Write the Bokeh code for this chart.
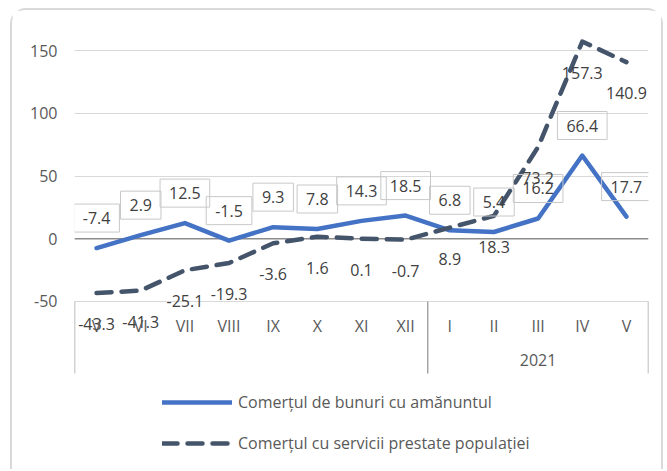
from bokeh.plotting import figure
from bokeh.models import (FactorRange, Span, Legend, LegendItem, FixedTicker, ColumnDataSource,
                          Range1d, PrintfTickFormatter)
from bokeh.embed import file_html
from bokeh.resources import INLINE
from bokeh.core.properties import value

# ---- data ----
months_2020 = ["V", "VI", "VII", "VIII", "IX", "X", "XI", "XII"]
months_2021 = ["I", "II", "III", "IV", "V"]
year_2020 = ""
year_2021 = "2021"
retail = [-7.4, 2.9, 12.5, -1.5, 9.3, 7.8, 14.3, 18.5, 6.8, 5.4, 16.2, 66.4, 17.7]
services = [-43.3, -41.3, -25.1, -19.3, -3.6, 1.6, 0.1, -0.7, 8.9, 18.3, 73.2, 157.3, 140.9]
y_ticks = [-50, 0, 50, 100, 150]
series_names = ["Comerțul de bunuri cu amănuntul", "Comerțul cu servicii prestate populației"]

factors = [(year_2020, m) for m in months_2020] + [(year_2021, m) for m in months_2021]

src = ColumnDataSource(dict(
    x=factors,
    retail=retail,
    services=services,
    retail_lbl=[f"{v:.1f}" for v in retail],
    services_lbl=[f"{v:.1f}" for v in services],
))

FONT = "Open Sans"
GRAY = "#595959"
FS = "16px"

p = figure(
    width=653, height=461,
    x_range=FactorRange(*factors, factor_padding=0, group_padding=0, subgroup_padding=0, range_padding=0),
    y_range=Range1d(-185.6, 174.1),
    output_backend="svg", toolbar_location=None,
    min_border_left=62, min_border_right=17, min_border_top=10, min_border_bottom=0,
    styles={"margin-left": "10px", "margin-top": "8px",
            "border-top": "2px solid #d9d9d9", "border-left": "2px solid #d9d9d9",
            "border-right": "2px solid #d9d9d9",
            "border-top-left-radius": "16px", "border-top-right-radius": "16px"},
)
p.outline_line_color = None
p.background_fill_color = "white"
p.border_fill_color = "white"

# grid
p.xgrid.grid_line_color = None
p.ygrid.ticker = FixedTicker(ticks=y_ticks)
p.ygrid.grid_line_color = "#d9d9d9"
p.ygrid.grid_line_width = 1

# y axis
p.yaxis.ticker = FixedTicker(ticks=y_ticks)
p.yaxis.formatter = PrintfTickFormatter(format="%d")
p.yaxis.axis_line_color = None
p.yaxis.major_tick_line_color = None
p.yaxis.major_tick_out = 0
p.yaxis.minor_tick_line_color = None
p.yaxis.minor_tick_out = 0
p.yaxis.major_label_standoff = 17
p.yaxis.major_label_text_font = FONT
p.yaxis.major_label_text_font_size = FS
p.yaxis.major_label_text_color = GRAY

# x axis (categorical, nested) placed at -50
p.xaxis.fixed_location = y_ticks[0]
p.xaxis.axis_line_color = None
p.xaxis.major_tick_line_color = None
p.xaxis.major_tick_out = 0
p.xaxis.minor_tick_line_color = None
p.xaxis.minor_tick_out = 0
p.xaxis.separator_line_color = None
p.xaxis.major_label_standoff = 14
p.xaxis.major_label_text_font = FONT
p.xaxis.major_label_text_font_size = FS
p.xaxis.major_label_text_color = GRAY
p.xaxis.group_text_font = FONT
p.xaxis.group_text_font_size = FS
p.xaxis.group_text_font_style = "normal"
p.xaxis.group_text_color = GRAY

# zero line
p.add_layout(Span(location=0, dimension="width", line_color="#8c8c8c", line_width=1.5, level="underlay"))

# group separators in the category band
n20 = len(months_2020)
n_all = len(factors)
sep_x = [0, n20, n_all]
p.segment(x0=sep_x, x1=sep_x, y0=[y_ticks[0]] * 3, y1=[-107.5] * 3,
          line_color="#a6a6a6", line_width=1.5)

# series
r1 = p.line(x="x", y="retail", source=src, line_color="#4472C4", line_width=4.5,
            line_cap="round", line_join="round")
r2 = p.line(x="x", y="services", source=src, line_color="#44546A", line_width=4.5,
            line_dash="15 10", line_cap="round", line_join="round")

# labels
p.text(x="x", y="retail", text="retail_lbl", source=src, text_align="center", text_baseline="middle",
       y_offset=-30, text_font=value(FONT), text_font_size=FS, text_color="#404040",
       border_line_color="#c8c8c8", border_line_width=1, background_fill_color=None,
       padding={"left": 9, "right": 9, "top": 8, "bottom": 8})
p.text(x="x", y="services", text="services_lbl", source=src, text_align="center", text_baseline="middle",
       y_offset=31, text_font=value(FONT), text_font_size=FS, text_color="#404040")

legend = Legend(
    items=[LegendItem(label=series_names[0], renderers=[r1]),
           LegendItem(label=series_names[1], renderers=[r2])],
    location=(88, 17), orientation="vertical",
    glyph_width=70, glyph_height=20, label_standoff=6, spacing=19, padding=0,
    border_line_color=None, background_fill_alpha=0,
    label_text_font=FONT, label_text_font_size=FS, label_text_color=GRAY,
)
p.add_layout(legend, "center")

open("out.html", "w").write(file_html(p, INLINE))
